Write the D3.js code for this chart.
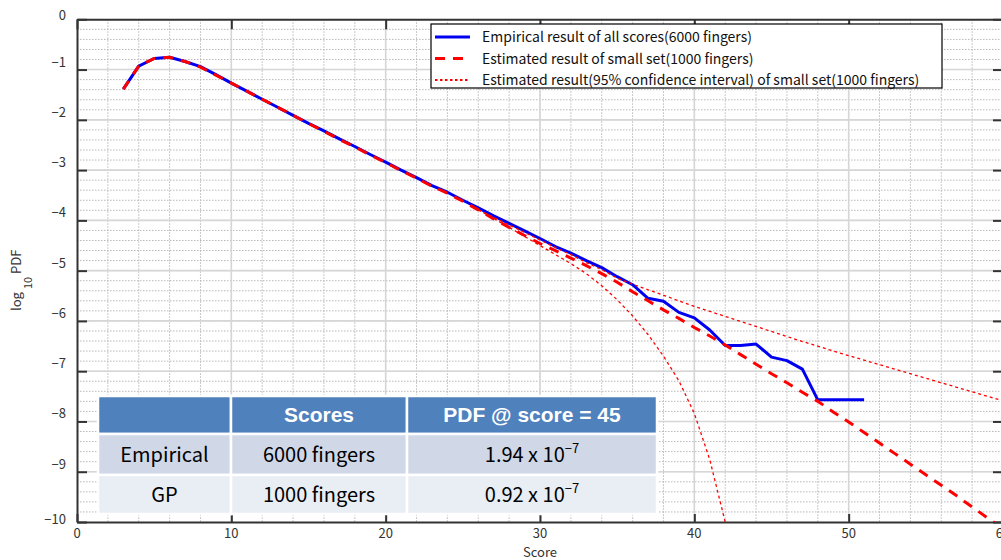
<!DOCTYPE html>
<html>
<head>
<meta charset="utf-8">
<script src="https://d3js.org/d3.v7.min.js"></script>
<style>
  body { margin: 0; background: #fff; }
  svg { display: block; }
</style>
</head>
<body>
<script>
// DATA * * * * * * * * * * * * * * * * * * * * * * * *
var empScores = [3,4,5,6,7,8,9,10,11,12,13,14,15,16,17,18,19,20,21,22,23,24,25,26,27,28,29,30,
                 31,32,33,34,35,36,37,38,39,40,41,42,43,44,45,46,47,48,49,50,51];
var empLogPdf = [-1.39,-0.93,-0.78,-0.755,-0.84,-0.94,-1.10,-1.27,-1.43,-1.59,-1.75,-1.91,-2.07,-2.22,
                 -2.38,-2.53,-2.69,-2.84,-3.00,-3.15,-3.31,-3.44,-3.60,-3.75,-3.91,-4.06,-4.21,-4.36,
                 -4.52,-4.65,-4.80,-4.94,-5.12,-5.28,-5.55,-5.61,-5.83,-5.94,-6.18,-6.49,-6.49,-6.46,
                 -6.72,-6.79,-6.96,-7.57,-7.57,-7.57,-7.57];

var gpScores = [3,4,5,6,7,8,9,10,11,12,13,14,15,16,17,18,19,20,21,22,23,24,25,26,27,28,29,30,
                31,32,33,34,35,36,37,38,39,40,41,42,43,44,45,46,47,48,49,50,51,52,53,54,55,56,57,58,59,60];
var gpLogPdf = [-1.39,-0.93,-0.78,-0.755,-0.84,-0.95,-1.11,-1.27,-1.43,-1.59,-1.75,-1.91,-2.07,-2.23,
                -2.39,-2.54,-2.70,-2.85,-3.01,-3.16,-3.32,-3.46,-3.62,-3.79,-3.97,-4.14,-4.30,-4.46,
                -4.60,-4.75,-4.90,-5.06,-5.23,-5.42,-5.60,-5.78,-5.95,-6.13,-6.30,-6.48,-6.67,-6.86,
                -7.05,-7.23,-7.42,-7.60,-7.81,-8.01,-8.22,-8.43,-8.64,-8.85,-9.06,-9.27,-9.48,-9.70,
                -9.92,-10.13];

var upScores = [26,27,28,29,30,31,32,33,34,35,36,37,38,39,40,41,42,43,44,45,46,47,48,49,50,
                51,52,53,54,55,56,57,58,59,60];
var upLogPdf = [-3.79,-3.94,-4.09,-4.24,-4.39,-4.54,-4.68,-4.84,-4.98,-5.15,-5.27,-5.38,-5.49,-5.60,
                -5.71,-5.81,-5.91,-6.01,-6.11,-6.21,-6.31,-6.41,-6.50,-6.60,-6.69,-6.78,-6.87,-6.96,
                -7.05,-7.14,-7.23,-7.32,-7.41,-7.50,-7.59];

var loScores = [26,27,28,29,30,31,32,33,34,35,36,37,38,39,40,41,42];
var loLogPdf = [-3.79,-3.96,-4.14,-4.32,-4.50,-4.68,-4.86,-5.06,-5.30,-5.58,-5.90,-6.27,-6.70,
                -7.19,-7.84,-8.76,-10.0];

var xTicks = [0,10,20,30,40,50,60];
var yTicks = [0,-1,-2,-3,-4,-5,-6,-7,-8,-9,-10];

var legendLabels = ["Empirical result of all scores(6000 fingers)",
                    "Estimated result of small set(1000 fingers)",
                    "Estimated result(95% confidence interval) of small set(1000 fingers)"];

var tableHeader = ["", "Scores", "PDF @ score = 45"];
var tableRows   = [["Empirical", "6000 fingers", "1.94 x 10", "\u22127"],
                   ["GP",        "1000 fingers", "0.92 x 10", "\u22127"]];

// SVG * * * * * * * * * * * * * * * * * * * * * * * *
var W = 1001, H = 560;
var pLeft = 77, pRight = 1003, pTop = 19.3, pBottom = 522;   // plot box (right edge runs off the page)
var FONT = "'Noto Sans CJK JP', 'Noto Sans', sans-serif";

var svg = d3.select("body").append("svg")
    .attr("width", W).attr("height", H);

var x = d3.scaleLinear().domain([0, 60]).range([pLeft, pRight]);
var y = d3.scaleLinear().domain([-10, 0]).range([pBottom, pTop]);

svg.append("clipPath").attr("id", "plotclip")
  .append("rect")
    .attr("x", pLeft).attr("y", pTop)
    .attr("width", pRight - pLeft).attr("height", pBottom - pTop);

// grid: minor dotted, major solid
var grid = svg.append("g");
grid.selectAll("line.ymin").data(d3.range(-9.8, 0, 0.2))
  .enter().append("line")
    .attr("x1", pLeft).attr("x2", pRight)
    .attr("y1", function (d) { return y(d); }).attr("y2", function (d) { return y(d); })
    .style("stroke", "#b8b8b8").style("stroke-width", 1).style("stroke-dasharray", "1.5,1.5");
grid.selectAll("line.xmin").data(d3.range(2, 60, 2))
  .enter().append("line")
    .attr("y1", pTop).attr("y2", pBottom)
    .attr("x1", function (d) { return x(d); }).attr("x2", function (d) { return x(d); })
    .style("stroke", "#b8b8b8").style("stroke-width", 1).style("stroke-dasharray", "1.5,1.5");
grid.selectAll("line.ymaj").data(yTicks.slice(1, -1))
  .enter().append("line")
    .attr("x1", pLeft).attr("x2", pRight)
    .attr("y1", function (d) { return y(d); }).attr("y2", function (d) { return y(d); })
    .style("stroke", "#d6d6d6").style("stroke-width", 1.6);
grid.selectAll("line.xmaj").data(xTicks.slice(1, -1))
  .enter().append("line")
    .attr("y1", pTop).attr("y2", pBottom)
    .attr("x1", function (d) { return x(d); }).attr("x2", function (d) { return x(d); })
    .style("stroke", "#d6d6d6").style("stroke-width", 1.6);

// axes (ticks point inward)
var axL = svg.append("g").attr("transform", "translate(" + pLeft + ",0)")
    .call(d3.axisRight(y).tickValues(yTicks).tickSize(10).tickSizeOuter(0).tickFormat(""));
var axR = svg.append("g").attr("transform", "translate(" + pRight + ",0)")
    .call(d3.axisLeft(y).tickValues(yTicks).tickSize(10).tickSizeOuter(0).tickFormat(""));
var axB = svg.append("g").attr("transform", "translate(0," + pBottom + ")")
    .call(d3.axisTop(x).tickValues(xTicks).tickSize(8).tickSizeOuter(0).tickFormat(""));
var axT = svg.append("g").attr("transform", "translate(0," + pTop + ")")
    .call(d3.axisBottom(x).tickValues(xTicks).tickSize(10).tickSizeOuter(0).tickFormat(""));
[axL, axR, axB, axT].forEach(function (a) {
  a.select(".domain").style("stroke", "#333").style("stroke-width", 2);
  a.selectAll(".tick line").style("stroke", "#333").style("stroke-width", 2);
});

// tick labels
var fmt = d3.format("d");
svg.selectAll("text.ylab").data(yTicks)
  .enter().append("text")
    .attr("x", 66)
    .attr("y", function (d) { return y(d) + (d === 0 ? 1 : d === -10 ? 2 : -3); })
    .attr("text-anchor", "end")
    .style("font-family", FONT).style("font-size", "13px").style("fill", "#333")
    .text(function (d) { return fmt(d); });
svg.selectAll("text.xlab").data(xTicks)
  .enter().append("text")
    .attr("x", function (d) { return x(d); })
    .attr("y", 538)
    .attr("text-anchor", "middle")
    .style("font-family", FONT).style("font-size", "13px").style("fill", "#333")
    .text(function (d) { return fmt(d); });

svg.append("text")
    .attr("x", x(30)).attr("y", 557)
    .attr("text-anchor", "middle")
    .style("font-family", FONT).style("font-size", "13px").style("fill", "#333")
    .text("Score");

var yt = svg.append("text")
    .attr("transform", "translate(21,311) rotate(-90)")
    .style("font-family", FONT).style("font-size", "13px").style("fill", "#333");
yt.append("tspan").text("log");
yt.append("tspan").attr("dx", 3).attr("dy", 11).style("font-size", "11px").text("10");
yt.append("tspan").attr("dx", 3).attr("dy", -11).text("PDF");

// lines
var line = d3.line()
    .x(function (d) { return x(d[0]); })
    .y(function (d) { return y(d[1]); });
var plot = svg.append("g").attr("clip-path", "url(#plotclip)");

plot.append("path")
    .attr("d", line(d3.zip(empScores, empLogPdf)))
    .style("fill", "none").style("stroke", "#0000f0").style("stroke-width", 3)
    .style("stroke-linejoin", "round");
plot.append("path")
    .attr("d", line(d3.zip(gpScores, gpLogPdf)))
    .style("fill", "none").style("stroke", "#ff0000").style("stroke-width", 3)
    .style("stroke-dasharray", "10,8");
[d3.zip(upScores, upLogPdf), d3.zip(loScores, loLogPdf)].forEach(function (pts) {
  plot.append("path")
      .attr("d", line(pts))
      .style("fill", "none").style("stroke", "#ff0000").style("stroke-width", 1.3)
      .style("stroke-dasharray", "3,3");
});

// legend
var lg = svg.append("g");
lg.append("rect")
    .attr("x", 431).attr("y", 24).attr("width", 511).attr("height", 64)
    .style("fill", "#fff").style("stroke", "#000").style("stroke-width", 1.2);
var legStyles = [
  { w: 3, dash: null, c: "#0000f0" },
  { w: 3, dash: "10,8", c: "#ff0000" },
  { w: 2, dash: "2.5,2.5", c: "#ff0000" }
];
legendLabels.forEach(function (t, i) {
  var yy = 37 + i * 21.5;
  lg.append("line")
      .attr("x1", 435).attr("x2", 470).attr("y1", yy).attr("y2", yy)
      .style("stroke", legStyles[i].c).style("stroke-width", legStyles[i].w)
      .style("stroke-dasharray", legStyles[i].dash);
  lg.append("text")
      .attr("x", 482).attr("y", yy + 5)
      .style("font-family", FONT).style("font-size", "14px").style("fill", "#111")
      .text(t);
});

// table
var colX = [98, 231, 407, 657];
var rowY = [396, 434, 475, 514];
var rowFill = ["#4f81bd", "#d0d8e8", "#e9edf4"];
var tb = svg.append("g");
[tableHeader].concat(tableRows).forEach(function (row, r) {
  for (var c = 0; c < 3; c++) {
    tb.append("rect")
        .attr("x", colX[c]).attr("y", rowY[r])
        .attr("width", colX[c + 1] - colX[c]).attr("height", rowY[r + 1] - rowY[r])
        .style("fill", rowFill[r]).style("stroke", "#fff").style("stroke-width", 2.5);
  }
  var cy = (rowY[r] + rowY[r + 1]) / 2 + 7;
  if (r === 0) {
    row.forEach(function (t, c) {
      tb.append("text")
          .attr("x", (colX[c] + colX[c + 1]) / 2).attr("y", cy)
          .attr("text-anchor", "middle")
          .style("font-family", "'Liberation Sans', Arial, sans-serif")
          .style("font-size", "21px").style("font-weight", "bold").style("fill", "#fff")
          .text(t);
    });
  } else {
    [0, 1].forEach(function (c) {
      tb.append("text")
          .attr("x", (colX[c] + colX[c + 1]) / 2).attr("y", cy)
          .attr("text-anchor", "middle")
          .style("font-family", FONT).style("font-size", "20px").style("fill", "#000")
          .text(row[c]);
    });
    var v = tb.append("text")
        .attr("x", (colX[2] + colX[3]) / 2).attr("y", cy)
        .attr("text-anchor", "middle")
        .style("font-family", FONT).style("font-size", "20px").style("fill", "#000");
    v.append("tspan").text(row[2]);
    v.append("tspan").attr("dy", -9).style("font-size", "13px").text(row[3]);
  }
});
</script>
</body>
</html>
